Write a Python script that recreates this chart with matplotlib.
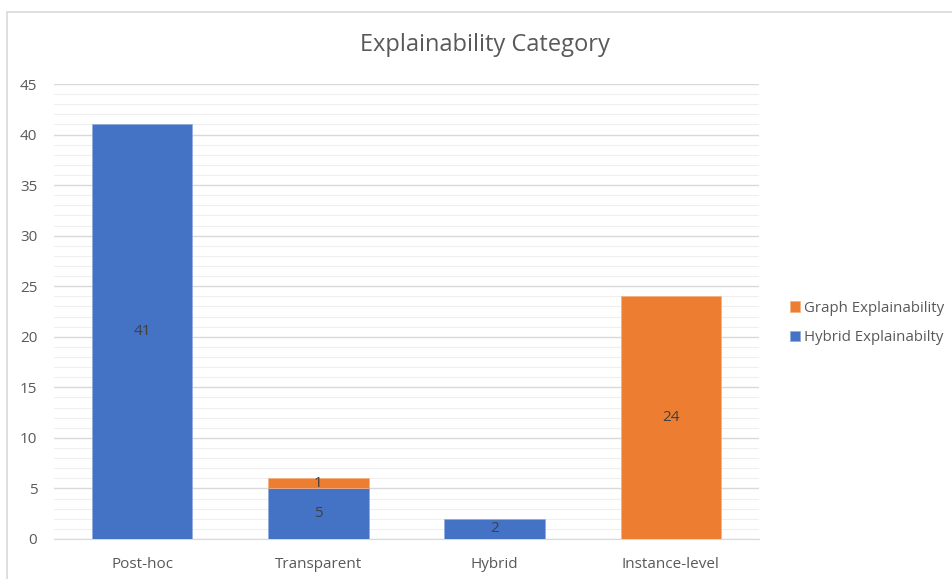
import matplotlib.pyplot as plt
from matplotlib.patches import Rectangle, Patch
from matplotlib.ticker import MultipleLocator

categories = ["Post-hoc", "Transparent", "Hybrid", "Instance-level"]
hybrid_vals = [41, 5, 2, 0]
graph_vals = [0, 1, 0, 24]

BLUE = "#4472C4"
ORANGE = "#ED7D31"
TXT = "#595959"

plt.rcParams["font.family"] = ["Open Sans", "DejaVu Sans"]

fig = plt.figure(figsize=(9.52, 5.79), dpi=100)
ax = fig.add_axes([54 / 952, 1 - 539 / 579, 705 / 952, 455 / 579])

# chart frame, runs off the right and bottom edges
fig.patches.append(Rectangle((7 / 952, -0.05), 1.1, 1.05 - 12 / 579,
                             transform=fig.transFigure, fill=False,
                             edgecolor="#D9D9D9", linewidth=1.2))

x = list(range(len(categories)))
b1 = ax.bar(x, hybrid_vals, width=0.57, color=BLUE, edgecolor="#8FAADC",
            linewidth=0.5, zorder=3)
b2 = ax.bar(x, graph_vals, width=0.57, bottom=hybrid_vals, color=ORANGE,
            edgecolor="#F4B183", linewidth=0.5, zorder=3)

# empty segments get no outline
for bars, vals in ((b1, hybrid_vals), (b2, graph_vals)):
    for patch, v in zip(bars, vals):
        if v == 0:
            patch.set_visible(False)

# value labels in the middle of each non-empty segment
for bars, vals in ((b1, hybrid_vals), (b2, graph_vals)):
    labels = [str(v) if v else "" for v in vals]
    ax.bar_label(bars, labels=labels, label_type="center", color="#404040",
                 fontsize=11)

ax.set_xlim(-0.5, 3.5)
ax.set_ylim(0, 45)
ax.yaxis.set_major_locator(MultipleLocator(5))
ax.yaxis.set_minor_locator(MultipleLocator(1))
ax.grid(axis="y", which="major", color="#D9D9D9", linewidth=1.0, zorder=0)
ax.grid(axis="y", which="minor", color="#EFEFEF", linewidth=0.8, zorder=0)
ax.set_axisbelow(True)

for s in ("top", "right", "left"):
    ax.spines[s].set_visible(False)
ax.spines["bottom"].set_color("#D9D9D9")
ax.tick_params(axis="both", which="both", length=0, colors=TXT, labelsize=11)
ax.tick_params(axis="y", pad=12)
ax.tick_params(axis="x", pad=13)
ax.set_xticks(x)
ax.set_xticklabels(categories)

fig.text(485 / 952, 1 - 45 / 579, "Explainability Category", ha="center",
         va="center", fontsize=17, color=TXT)

handles = [Patch(facecolor=ORANGE, edgecolor="#F4B183", linewidth=0.5),
           Patch(facecolor=BLUE, edgecolor="#8FAADC", linewidth=0.5)]
ax.legend(handles, ["Graph Explainability", "Hybrid Explainabilty"],
          loc="center left", bbox_to_anchor=(776 / 952, 1 - 323 / 579),
          bbox_transform=fig.transFigure, frameon=False, fontsize=10.8,
          labelcolor=TXT, handlelength=0.7, handleheight=0.7,
          handletextpad=0.3, labelspacing=0.95)

fig.savefig("out.png", dpi=100, facecolor="white")
